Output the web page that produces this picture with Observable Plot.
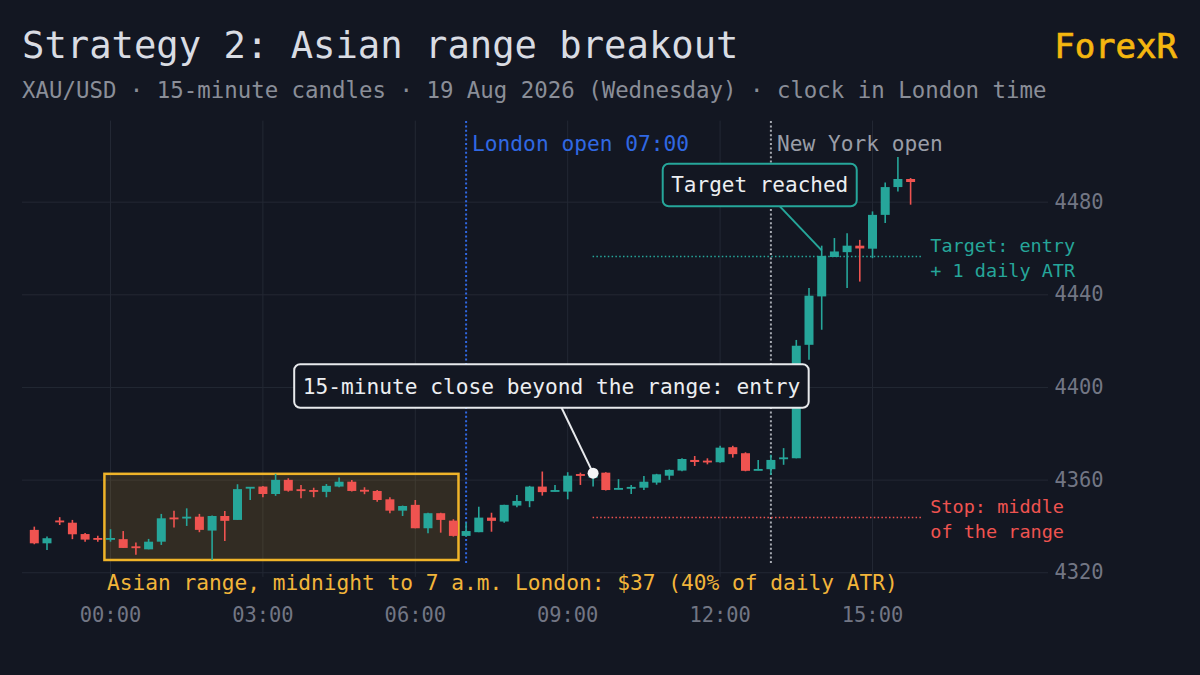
<!DOCTYPE html>
<html><head><meta charset="utf-8">
<script src="https://cdn.jsdelivr.net/npm/d3@7"></script>
<script src="https://cdn.jsdelivr.net/npm/@observablehq/plot@0.6"></script>
<style>
html,body{margin:0;padding:0;background:#131722;}
#wrap{position:relative;width:1200px;height:675px;overflow:hidden;font-family:"DejaVu Sans Mono",monospace;background:#131722;}
.t{position:absolute;white-space:pre;line-height:1;}
#title{left:22px;top:26.8px;font-size:37.2px;color:#d9dce3;}
#sub{left:22px;top:78.5px;font-size:22.4px;color:#8a8e98;}
#logo{right:23px;top:28.9px;font-size:34px;color:#f5b70f;-webkit-text-stroke:0.7px #f5b70f;}
#chart{position:absolute;left:0;top:110px;}
</style></head><body>
<div id="wrap">
 <div class="t" id="title">Strategy 2: Asian range breakout</div>
 <div class="t" id="sub">XAU/USD · 15-minute candles · 19 Aug 2026 (Wednesday) · clock in London time</div>
 <div class="t" id="logo">ForexR</div>
 <div id="chart"></div>
</div>
<script>
// ---- data ----
const candleTimes = [
 "22:30","22:45","23:00","23:15","23:30","23:45","00:00","00:15","00:30","00:45",
 "01:00","01:15","01:30","01:45","02:00","02:15","02:30","02:45","03:00","03:15",
 "03:30","03:45","04:00","04:15","04:30","04:45","05:00","05:15","05:30","05:45",
 "06:00","06:15","06:30","06:45","07:00","07:15","07:30","07:45","08:00","08:15",
 "08:30","08:45","09:00","09:15","09:30","09:45","10:00","10:15","10:30","10:45",
 "11:00","11:15","11:30","11:45","12:00","12:15","12:30","12:45","13:00","13:15",
 "13:30","13:45","14:00","14:15","14:30","14:45","15:00","15:15","15:30","15:45"];
const opens = [
 4338.3,4332.5,4342.2,4341.4,4336.5,4334.6,4334.2,4334.3,4331.0,4329.9,
 4333.2,4343.5,4343.4,4344.0,4338.0,4344.3,4342.6,4356.2,4357.0,4353.8,
 4359.9,4355.7,4355.3,4354.7,4357.0,4359.1,4355.4,4355.1,4351.5,4346.6,
 4349.1,4339.0,4345.5,4342.3,4335.7,4337.3,4343.6,4341.9,4348.8,4350.7,
 4357.0,4354.9,4354.8,4362.2,4360.8,4363.0,4355.8,4356.3,4356.5,4358.7,
 4361.7,4363.9,4368.5,4368.1,4367.5,4374.0,4371.4,4364.0,4364.5,4369.0,
 4369.2,4418.2,4439.1,4456.1,4458.2,4461.0,4459.7,4474.3,4486.3,4489.8];
const highs = [
 4339.7,4335.4,4343.8,4342.6,4337.0,4335.8,4338.6,4337.8,4332.8,4334.4,
 4345.2,4346.6,4347.6,4345.2,4344.5,4346.5,4358.0,4356.8,4357.2,4362.5,
 4360.6,4357.7,4356.5,4358.1,4360.9,4359.8,4356.7,4355.5,4352.4,4348.8,
 4351.2,4345.7,4345.7,4342.9,4341.5,4348.3,4345.7,4349.1,4353.4,4357.3,
 4363.5,4357.7,4363.2,4363.0,4363.5,4363.2,4360.2,4357.7,4361.6,4362.5,
 4364.4,4369.2,4370.2,4369.2,4374.6,4374.6,4371.8,4368.5,4370.7,4373.6,
 4420.3,4442.7,4461.0,4464.3,4466.4,4463.5,4475.8,4488.3,4499.3,4490.2];
const lows = [
 4332.1,4329.6,4340.4,4334.3,4333.2,4333.2,4333.2,4330.5,4327.6,4329.9,
 4331.8,4339.3,4340.0,4337.3,4325.3,4333.5,4342.6,4351.2,4352.4,4353.0,
 4354.8,4352.0,4352.4,4352.4,4356.7,4354.9,4353.7,4350.4,4345.5,4344.3,
 4339.0,4336.8,4337.1,4335.4,4335.3,4337.3,4337.5,4341.4,4348.1,4348.1,
 4353.1,4354.9,4351.5,4357.7,4357.0,4355.3,4355.8,4353.8,4355.5,4357.8,
 4359.9,4363.6,4365.9,4366.6,4367.3,4369.5,4363.6,4364.0,4362.0,4366.4,
 4369.2,4411.7,4424.7,4456.1,4442.7,4445.5,4455.6,4470.8,4484.4,4478.7];
const closes = [
 4332.5,4334.7,4341.7,4336.4,4334.1,4334.2,4334.6,4330.5,4330.6,4333.2,
 4343.3,4343.0,4343.8,4338.3,4344.3,4342.2,4355.9,4356.8,4353.8,4359.9,
 4355.2,4355.2,4354.9,4357.3,4359.1,4355.1,4355.0,4351.2,4346.6,4348.6,
 4339.0,4345.5,4342.6,4335.7,4337.8,4343.6,4342.2,4349.1,4350.8,4357.0,
 4354.6,4355.3,4361.7,4361.8,4363.0,4355.5,4356.2,4356.6,4359.1,4362.3,
 4364.2,4368.9,4367.6,4367.5,4373.8,4371.0,4363.8,4364.4,4368.5,4369.4,
 4417.8,4439.4,4456.6,4458.5,4461.0,4459.8,4474.3,4486.3,4489.8,4488.5];

const xTickHours = [0, 3, 6, 9, 12, 15];
const yTicks = [4320, 4360, 4400, 4440, 4480];
const asianStart = 0, asianEnd = 7;      // midnight to 7 a.m. London
const londonOpen = 7, newYorkOpen = 13;
const entryTime = "09:30";
const dailyATR = 93.5;
const tradeEnd = 16;

const londonLabel = "London open 07:00";
const newYorkLabel = "New York open";
const rangeLabel = "Asian range, midnight to 7 a.m. London: $37 (40% of daily ATR)";
const entryLabel = "15-minute close beyond the range: entry";
const targetReachedLabel = "Target reached";
const targetLabel = "Target: entry\n+ 1 daily ATR";
const stopLabel = "Stop: middle\nof the range";

// ---- derived ----
const UP = "#26a69a", DOWN = "#ef5350", GOLD = "#f0b429", GRID = "#232834";
const BLUE = "#3068e3", NYC = "#a7aab2";
const toH = s => { const [h, m] = s.split(":").map(Number); const v = h + m / 60; return v >= 18 ? v - 24 : v; };
const minBody = 0.8;
const candles = candleTimes.map((t, i) => {
  const o = opens[i], c = closes[i];
  let lo = Math.min(o, c), hi = Math.max(o, c);
  if (hi - lo < minBody) { const m = (o + c) / 2; lo = m - minBody / 2; hi = m + minBody / 2; }
  return {x: toH(t), o, h: highs[i], l: lows[i], c, lo, hi, up: c >= o};
});
const asian = candles.filter(d => d.x >= asianStart && d.x < asianEnd);
const rangeHigh = d3.max(asian, d => d.h), rangeLow = d3.min(asian, d => d.l);
const stopLevel = (rangeHigh + rangeLow) / 2;
const entry = candles.find(d => d.x === toH(entryTime));
const targetLevel = entry.c + dailyATR;
const hit = candles.find(d => d.h >= targetLevel);
const halfBar = 0.11;
const box = {x1: asianStart - halfBar, x2: asianEnd - 0.25 + halfBar, y1: rangeLow, y2: rangeHigh};
const yDomain = [4318, 4515];
const xDomain = [-1.7323, 18.4646];

const entryCallout = {x: entry.x - 0.82, y: entry.c + 37.3, tx: entry.x, ty: entry.c, text: entryLabel};
const hitCallout = {x: hit.x - 1.22, y: hit.h + 26.3, tx: hit.x, ty: hit.h - 1.8, text: targetReachedLabel};

const chart = Plot.plot({
  width: 1200, height: 540,
  marginTop: 10.6, marginBottom: 73.1, marginLeft: 22, marginRight: 152,
  style: {background: "transparent", color: "#727684", fontFamily: "DejaVu Sans Mono", fontSize: "20.4px"},
  x: {domain: xDomain, ticks: xTickHours, tickFormat: h => String(h).padStart(2, "0") + ":00", tickSize: 0, tickPadding: 30, label: null},
  y: {domain: yDomain, ticks: yTicks, tickFormat: d => String(d), tickSize: 0, tickPadding: 6, axis: "right", label: null},
  marks: [
    Plot.ruleY(yTicks, {stroke: GRID, strokeWidth: 1}),
    Plot.ruleX(xTickHours, {stroke: GRID, strokeWidth: 1}),
    Plot.rect([box], {x1: "x1", x2: "x2", y1: "y1", y2: "y2", fill: GOLD, fillOpacity: 0.14, stroke: GOLD, strokeWidth: 2.5}),
    Plot.text([box], {x: "x1", y: "y1", text: () => rangeLabel, textAnchor: "start", lineAnchor: "bottom", dx: 2, dy: 30, fill: "#f2b53a", fontSize: 21.2}),
    Plot.ruleX([londonOpen], {y1: yDomain[0] + 6, y2: yDomain[1], stroke: BLUE, strokeWidth: 2, strokeDasharray: "2 2.4"}),
    Plot.ruleX([newYorkOpen], {y1: yDomain[0] + 6, y2: yDomain[1], stroke: NYC, strokeWidth: 2, strokeDasharray: "2 2.4"}),
    Plot.text([londonOpen], {x: d => d, frameAnchor: "top", text: () => londonLabel, textAnchor: "start", lineAnchor: "bottom", dx: 6, dy: 29.4, fill: BLUE, fontSize: 21.2}),
    Plot.text([newYorkOpen], {x: d => d, frameAnchor: "top", text: () => newYorkLabel, textAnchor: "start", lineAnchor: "bottom", dx: 6, dy: 29.4, fill: "#9a9ea8", fontSize: 21.2}),
    Plot.ruleY([targetLevel], {x1: entry.x, x2: tradeEnd, stroke: UP, strokeWidth: 1.5, strokeDasharray: "1.5 2.3"}),
    Plot.ruleY([stopLevel], {x1: entry.x, x2: tradeEnd, stroke: DOWN, strokeWidth: 1.5, strokeDasharray: "1.5 2.3"}),
    Plot.text([targetLevel], {x: tradeEnd, y: d => d, text: () => targetLabel, textAnchor: "start", lineAnchor: "middle", lineHeight: 1.35, dx: 7, fill: UP, fontSize: 18.5}),
    Plot.text([stopLevel], {x: tradeEnd, y: d => d, text: () => stopLabel, textAnchor: "start", lineAnchor: "middle", lineHeight: 1.35, dx: 7, fill: DOWN, fontSize: 18.5}),
    // candles
    Plot.ruleX(candles.filter(d => d.up), {x: "x", y1: "l", y2: "h", stroke: UP, strokeWidth: 1.6}),
    Plot.ruleX(candles.filter(d => !d.up), {x: "x", y1: "l", y2: "h", stroke: DOWN, strokeWidth: 1.6}),
    Plot.ruleX(candles.filter(d => d.up), {x: "x", y1: "lo", y2: "hi", stroke: UP, strokeWidth: 9}),
    Plot.ruleX(candles.filter(d => !d.up), {x: "x", y1: "lo", y2: "hi", stroke: DOWN, strokeWidth: 9}),
    // callouts
    Plot.link([entryCallout], {x1: "x", y1: "y", x2: "tx", y2: "ty", stroke: "#e8eaed", strokeWidth: 2}),
    Plot.link([hitCallout], {x1: "x", y1: "y", x2: "tx", y2: "ty", stroke: UP, strokeWidth: 2}),
    Plot.dot([entry], {x: "x", y: "c", r: 5.5, fill: "#f4f5f7", stroke: "none"}),
    Plot.text([entryCallout], {x: "x", y: "y", text: "text", fill: "#eceef1", fontSize: 21.2, textAnchor: "middle", lineAnchor: "middle"}),
    Plot.text([hitCallout], {x: "x", y: "y", text: "text", fill: "#eceef1", fontSize: 21, textAnchor: "middle", lineAnchor: "middle"})
  ]
});
document.getElementById("chart").appendChild(chart);

// boxes behind callout texts
const boxStyles = [[entryLabel, "#e8eaed", 8.5, 43.5], [targetReachedLabel, UP, 8.5, 42.5]];
chart.querySelectorAll("text").forEach(t => {
  const st = boxStyles.find(s => s[0] === t.textContent);
  if (!st) return;
  const b = t.getBBox();
  const r = document.createElementNS("http://www.w3.org/2000/svg", "rect");
  r.setAttribute("x", b.x - st[2]);
  r.setAttribute("y", b.y + b.height / 2 - st[3] / 2);
  r.setAttribute("width", b.width + 2 * st[2]);
  r.setAttribute("height", st[3]);
  r.setAttribute("rx", 6);
  r.setAttribute("fill", "#131722");
  r.setAttribute("stroke", st[1]);
  r.setAttribute("stroke-width", 2);
  const tr = t.getAttribute("transform");
  if (tr) r.setAttribute("transform", tr);
  t.parentNode.insertBefore(r, t);
});
</script>
</body></html>
